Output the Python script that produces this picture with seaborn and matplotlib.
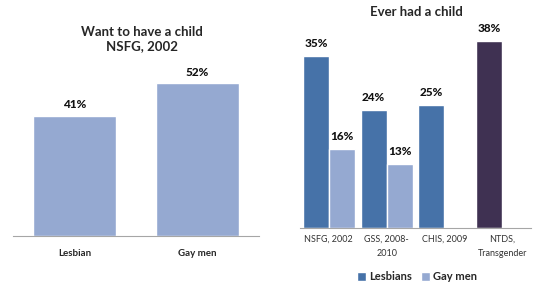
import numpy as np
import pandas as pd
import matplotlib
matplotlib.use("Agg")
import matplotlib.pyplot as plt
import seaborn as sns

# Data
want_groups = ["Lesbian", "Gay men"]
want_values = [41, 52]

ever_surveys = ["NSFG, 2002", "GSS, 2008-\n2010", "CHIS, 2009", "NTDS,\nTransgender"]
lesbian_values = [35, 24, 25, 38]
gay_surveys = ["NSFG, 2002", "GSS, 2008-\n2010"]
gay_values = [16, 13]
series_names = ["Lesbians", "Gay men"]

dark_blue = "#4672A8"
light_blue = "#95A9D1"
purple = "#3F3152"
axis_gray = "#A6A6A6"

sns.set_style("white")
plt.rcParams["font.family"] = ["Lato", "DejaVu Sans"]

fig = plt.figure(figsize=(5.36, 2.89), dpi=100)

# ---- left panel: want to have a child
ax1 = fig.add_axes([13 / 536, 53 / 289, 246 / 536, 176 / 289])
sns.barplot(x=want_groups, y=want_values, color=light_blue, width=0.67,
            saturation=1, ax=ax1)
ax1.set_ylim(0, 60)
ax1.set_xlim(-0.5, 1.5)
for c in ax1.containers:
    ax1.bar_label(c, labels=[f"{v}%" for v in want_values], padding=4,
                  fontsize=8.5, fontweight="black", color="#111111")
ax1.set_yticks([])
ax1.set_xticks(np.arange(-0.5, 2, 1), minor=True)
ax1.tick_params(axis="x", which="major", length=0, pad=9, labelsize=7)
ax1.tick_params(axis="x", which="minor", length=4, color=axis_gray, width=0.8)
for lbl in ax1.get_xticklabels():
    lbl.set_fontweight("bold")
sns.despine(ax=ax1, left=True)
ax1.spines["bottom"].set_color(axis_gray)
ax1.set_xlabel("")
ax1.set_ylabel("")
fig.text(141.5 / 536, 1 - 39 / 289, "Want to have a child\nNSFG, 2002", ha="center",
         va="center", fontsize=9.5, fontweight="bold", linespacing=1.3)

# ---- right panel: ever had a child
df = pd.DataFrame({
    "survey": ever_surveys + gay_surveys,
    "pct": lesbian_values + gay_values,
    "group": [series_names[0]] * len(ever_surveys) + [series_names[1]] * len(gay_surveys),
})
ax2 = fig.add_axes([300 / 536, 61 / 289, 231 / 536, 197 / 289])
sns.barplot(data=df, x="survey", y="pct", hue="group", order=ever_surveys,
            hue_order=series_names, palette=[dark_blue, light_blue], width=0.9,
            saturation=1, ax=ax2)
ax2.set_ylim(0, 40)
ax2.set_xlim(-0.5, 3.5)
ax2.containers[0].patches[3].set_facecolor(purple)
ax2.bar_label(ax2.containers[0], labels=[f"{v}%" for v in lesbian_values], padding=5,
              fontsize=8.5, fontweight="black", color="#111111", clip_on=False)
ax2.bar_label(ax2.containers[1], labels=[f"{v}%" for v in gay_values], padding=5,
              fontsize=8.5, fontweight="black", color="#111111", clip_on=False)
ax2.set_yticks([])
ax2.set_xticks(range(len(ever_surveys)))
ax2.set_xticklabels(ever_surveys, linespacing=1.7)
ax2.set_xticks(np.arange(-0.5, 4, 1), minor=True)
ax2.tick_params(axis="x", which="major", length=0, pad=5, labelsize=6.5,
                labelcolor="#333333")
ax2.tick_params(axis="x", which="minor", length=4, color=axis_gray, width=0.8)
sns.despine(ax=ax2, left=True)
ax2.spines["bottom"].set_color(axis_gray)
ax2.set_xlabel("")
ax2.set_ylabel("")
sns.move_legend(ax2, "center", bbox_to_anchor=(417 / 536, 1 - 277 / 289),
                bbox_transform=fig.transFigure,
                ncol=2, frameon=False, title=None, fontsize=8,
                handlelength=0.8, handleheight=0.8, handletextpad=0.3,
                columnspacing=0.8)
for t in ax2.get_legend().get_texts():
    t.set_fontweight("bold")
fig.text(416 / 536, 1 - 12 / 289, "Ever had a child", ha="center", va="center",
         fontsize=9.5, fontweight="bold")

fig.savefig("out.png", dpi=100)
